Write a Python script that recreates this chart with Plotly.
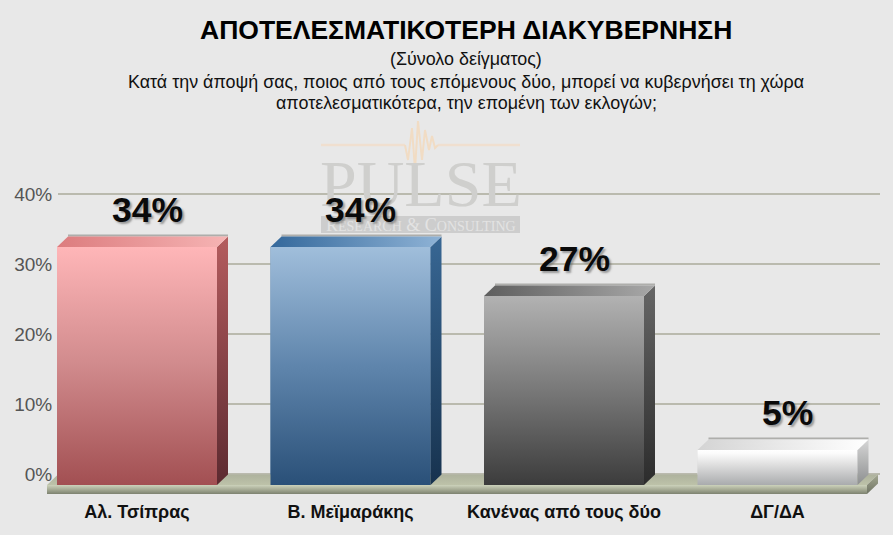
import plotly.graph_objects as go

# ---- data ----
categories = ["Αλ. Τσίπρας", "Β. Μεϊμαράκης", "Κανένας από τους δύο", "ΔΓ/ΔΑ"]
values = [34, 34, 27, 5]
tick_values = [0, 10, 20, 30, 40]
tick_labels = ["0%", "10%", "20%", "30%", "40%"]
title = "ΑΠΟΤΕΛΕΣΜΑΤΙΚΟΤΕΡΗ ΔΙΑΚΥΒΕΡΝΗΣΗ"
subtitle_lines = [
    "(Σύνολο δείγματος)",
    "Κατά την άποψή σας, ποιος από τους επόμενους δύο, μπορεί να κυβερνήσει τη χώρα",
    "αποτελεσματικότερα, την επομένη των εκλογών;",
]

# ---- styling ----
W, H = 893, 535
BG = "#e8e8e8"
FONT = "Liberation Sans, Arial, sans-serif"
front_scale = [
    [[0, "#a24f52"], [0.5, "#d08a8c"], [1, "#ffb6b8"]],
    [[0, "#2a5078"], [0.5, "#5f85ac"], [1, "#a0bedb"]],
    [[0, "#3c3c3c"], [0.5, "#787878"], [1, "#b2b2b2"]],
    [[0, "#a9abad"], [0.55, "#dcdcdc"], [0.9, "#fbfbfb"], [1, "#ffffff"]],
]
side_scale = [
    [[0, "#5c2a30"], [1, "#b45c5e"]],
    [[0, "#17324e"], [1, "#386794"]],
    [[0, "#2c2c2c"], [1, "#666666"]],
    [[0, "#8d8f90"], [1, "#d6d6d6"]],
]
top_scale = [
    [[0, "#dc7c7e"], [1, "#f6b4b4"]],
    [[0, "#34689b"], [1, "#8fb3d6"]],
    [[0, "#5e5e5e"], [1, "#a8a8a8"]],
    [[0, "#d4d4d4"], [1, "#ffffff"]],
]
mid_colors = ["#d08a8c", "#5f85ac", "#787878", "#dcdcdc"]

PX_PER_UNIT_Y = 7.0      # pixels per percentage point
PX_PER_CAT = 213.5       # pixels between categories
FIRST_CENTER = 137.0     # pixel of the first bar centre
BASE_PX = 485.0          # pixel of value 0 on the front plane
BOT_PX, TOP_PX = 494.0, 150.0
LEFT_PX, RIGHT_PX = 47.0, 878.0
BAR_W = 160.0 / PX_PER_CAT
DX = 11.0 / PX_PER_CAT   # depth of the 3D look
DY = 10.5 / PX_PER_UNIT_Y

x_lo = (LEFT_PX - FIRST_CENTER) / PX_PER_CAT
x_hi = (RIGHT_PX - FIRST_CENTER) / PX_PER_CAT
y_lo = (BOT_PX - BASE_PX) / PX_PER_UNIT_Y   # depth of the floor slab below value 0
y_hi = (BASE_PX - TOP_PX) / PX_PER_UNIT_Y

px = lambda x: x / W
py = lambda y: 1 - y / H

fig = go.Figure()

# Helper trace on the wall subplot so the gridlines exist
fig.add_trace(go.Scatter(x=[0], y=[0], mode="markers", marker=dict(opacity=0),
                         xaxis="x", yaxis="y", hoverinfo="skip", showlegend=False))


def poly(xs, ys, scale=None, horizontal=False, color=None):
    kw = dict(x=xs + xs[:1], y=ys + ys[:1], mode="lines", line=dict(width=0),
              fill="toself", xaxis="x2", yaxis="y2", hoverinfo="skip", showlegend=False)
    if scale is not None:
        kw["fillgradient"] = dict(type="horizontal" if horizontal else "vertical", colorscale=scale)
    else:
        kw["fillcolor"] = color
    fig.add_trace(go.Scatter(**kw))


# Floor
fx0, fx1 = x_lo, x_hi - DX
poly([fx0, fx0 + DX, fx1 + DX, fx1], [0, DY, DY, 0], [[0, "#bdc2a9"], [1, "#aeb29d"]])
poly([fx0, fx1, fx1, fx0], [0, 0, -y_lo, -y_lo], [[0, "#7d8270"], [0.5, "#a6ab95"], [1, "#ccd2bb"]])
poly([fx1, fx1 + DX, fx1 + DX, fx1], [0, DY, DY - y_lo, -y_lo], [[0, "#6f7464"], [1, "#a3a790"]])

# Bars
fig.add_trace(go.Bar(x=list(range(len(values))), y=values, width=BAR_W,
                     marker=dict(color=mid_colors, line=dict(width=0)),
                     xaxis="x2", yaxis="y2", showlegend=False, hoverinfo="x+y"))
for i, v in enumerate(values):
    l, r = i - BAR_W / 2, i + BAR_W / 2
    fig.add_trace(go.Scatter(x=[l + DX, r + DX], y=[v + DY + 0.15, v + DY + 0.15], mode="lines",
                             line=dict(color="rgba(150,150,145,0.7)", width=2),
                             xaxis="x2", yaxis="y2", hoverinfo="skip", showlegend=False))
    poly([l, r, r, l], [0, 0, v, v], front_scale[i])
    poly([r, r + DX, r + DX, r], [0, DY, v + DY, v], side_scale[i])
    poly([l, l + DX, r + DX, r], [v, v + DY, v + DY, v], top_scale[i], horizontal=True)

annotations = [
    dict(text="<b>" + title + "</b>", x=px(466), y=py(30), xref="paper", yref="paper", showarrow=False,
         font=dict(family=FONT, size=26.5, color="#000000"), xanchor="center", yanchor="middle"),
]
for line, yy in zip(subtitle_lines, [59, 82, 103]):
    annotations.append(dict(text=line, x=px(466), y=py(yy), xref="paper", yref="paper", showarrow=False,
                            font=dict(family=FONT, size=17.9, color="#111111"),
                            xanchor="center", yanchor="middle"))

# Watermark text
annotations.append(dict(text="PULSE", x=px(421), y=py(183), xref="paper", yref="paper", showarrow=False,
                        font=dict(family="Liberation Serif, serif", size=66, color="#cfcfcd"),
                        xanchor="center", yanchor="middle"))
annotations.append(dict(text="R<span style='font-size:14px'>ESEARCH</span> &amp; C<span style='font-size:14px'>ONSULTING</span>",
                        x=px(421), y=py(225), xref="paper", yref="paper", showarrow=False,
                        font=dict(family="Liberation Serif, serif", size=18, color="#e3e3e3"),
                        xanchor="center", yanchor="middle"))

# Value labels
for i, v in enumerate(values):
    annotations.append(dict(text=f"<b>{v}%</b>", x=i, y=v, xref="x2", yref="y2", xshift=10, yshift=37,
                            showarrow=False, xanchor="center", yanchor="middle",
                            font=dict(family=FONT, size=35.5, color="#0a0a0a",
                                      shadow="2px 2px 2px rgba(90,90,90,0.55)")))

shapes = [
    dict(type="rect", xref="paper", yref="paper", x0=px(321), x1=px(520), y0=py(216), y1=py(233),
         fillcolor="#cdcdcd", line=dict(width=0), layer="below"),
    dict(type="line", xref="paper", yref="paper", x0=px(321), x1=px(405), y0=py(145), y1=py(145),
         line=dict(color="#f0dfcf", width=2.5), layer="below"),
    dict(type="line", xref="paper", yref="paper", x0=px(438), x1=px(520), y0=py(145), y1=py(145),
         line=dict(color="#f0dfcf", width=2.5), layer="below"),
    dict(type="path", xref="paper", yref="paper", layer="below",
         path="M {} {} ".format(px(405), py(145)) + " ".join(
             "L {} {}".format(px(a), py(b)) for a, b in
             [(408, 160), (412, 128), (415, 170), (418, 121), (422, 160), (425, 130),
              (429, 150), (432, 136), (435, 148), (438, 145)]),
         line=dict(color="#f1dcc4", width=2)),
]

axis_off = dict(showgrid=False, zeroline=False, showline=False)
fig.update_layout(
    width=W, height=H, margin=dict(l=0, r=0, t=0, b=0, autoexpand=False),
    paper_bgcolor=BG, plot_bgcolor="rgba(0,0,0,0)", showlegend=False, barmode="overlay",
    annotations=annotations, shapes=shapes,
    xaxis=dict(domain=[px(58), px(880)], range=[0, 1], showticklabels=False, ticks="", **axis_off),
    yaxis=dict(domain=[py(BOT_PX), py(TOP_PX)],
               range=[-(BOT_PX - BASE_PX + 11) / PX_PER_UNIT_Y, (BASE_PX - 11 - TOP_PX) / PX_PER_UNIT_Y],
               tickmode="array", tickvals=tick_values, ticktext=tick_labels,
               tickfont=dict(family=FONT, size=19, color="#555555"),
               ticks="outside", ticklen=1, tickcolor="rgba(0,0,0,0)",
               showgrid=True, gridcolor="#babaae", gridwidth=2, zeroline=False, showline=False),
    xaxis2=dict(domain=[px(LEFT_PX), px(RIGHT_PX)], range=[x_lo, x_hi], anchor="y2",
                tickmode="array", tickvals=list(range(len(categories))), ticktext=[f"<b>{c}</b>" for c in categories],
                tickfont=dict(family=FONT, size=18, color="#111111"),
                ticks="outside", ticklen=1, tickcolor="rgba(0,0,0,0)", **axis_off),
    yaxis2=dict(domain=[py(BOT_PX), py(TOP_PX)], range=[-y_lo, y_hi], anchor="x2",
                showticklabels=False, ticks="", **axis_off),
)

fig.write_html("out.html", config=dict(displayModeBar=False),
               post_script="document.body.style.margin='0';")
